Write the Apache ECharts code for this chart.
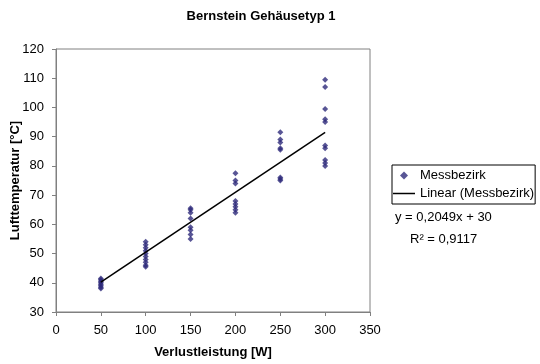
<!DOCTYPE html>
<html><head><meta charset="utf-8">
<script src="https://cdn.jsdelivr.net/npm/echarts@6/dist/echarts.min.js"></script>
<style>html,body{margin:0;padding:0;background:#fff}#c{width:540px;height:364px}</style>
</head><body><div id="c"></div>
<script>
var title = 'Bernstein Gehäusetyp 1';
var xName = 'Verlustleistung [W]';
var yName = 'Lufttemperatur [°C]';
var seriesName = 'Messbezirk';
var trendName = 'Linear (Messbezirk)';
var eqText = 'y = 0,2049x + 30';
var r2Text = 'R² = 0,9117';
var xTicks = [0, 50, 100, 150, 200, 250, 300, 350];
var yTicks = [30, 40, 50, 60, 70, 80, 90, 100, 110, 120];
var x50 = [41.5, 41, 40.5, 40, 39.5, 39, 38.5, 38];
var x100 = [54, 53, 52, 51, 50, 49, 48, 47, 46, 45.5];
var x150 = [65.5, 65, 64, 62, 59, 58, 56.5, 55];
var x200 = [77.5, 75, 74, 68, 67, 66, 65, 64];
var x250 = [91.5, 89, 88, 86, 85.5, 76, 75.5, 75];
var x300 = [109.5, 107, 99.5, 96, 95, 87, 86, 82, 81, 80];
var trendX = [50, 300];
var trendY = [40.2, 91.5];

var groups = [[50, x50], [100, x100], [150, x150], [200, x200], [250, x250], [300, x300]];
var pts = [];
groups.forEach(function (g) { g[1].forEach(function (v) { pts.push([g[0], v]); }); });
var trend = trendX.map(function (x, i) { return [x, trendY[i]]; });

var font = 'Arial, "Liberation Sans", sans-serif';
var chart = echarts.init(document.getElementById('c'));
chart.setOption({
  animation: false,
  backgroundColor: '#fff',
  title: { text: title, left: 256, textAlign: 'center', top: 5,
    textStyle: { fontFamily: font, fontSize: 13, fontWeight: 'bold', color: '#000' } },
  grid: { left: 56, top: 49, width: 314, height: 263, containLabel: false, outerBoundsMode: 'none',
    show: true, borderColor: '#808080', borderWidth: 1, backgroundColor: '#fff' },
  xAxis: { type: 'value', min: xTicks[0], max: xTicks[xTicks.length - 1], interval: 50,
    name: xName, nameLocation: 'middle', nameGap: 34, nameMoveOverlap: false,
    nameTextStyle: { fontFamily: font, fontSize: 13, fontWeight: 'bold', color: '#000' },
    axisLine: { show: true, lineStyle: { color: '#808080' } },
    axisTick: { show: true, length: 4, lineStyle: { color: '#808080' } },
    axisLabel: { fontFamily: font, fontSize: 13, color: '#000', margin: 12 },
    splitLine: { show: false } },
  yAxis: { type: 'value', min: yTicks[0], max: yTicks[yTicks.length - 1], interval: 10,
    name: yName, nameLocation: 'middle', nameGap: 34, nameRotate: 90, nameMoveOverlap: false,
    nameTextStyle: { fontFamily: font, fontSize: 13, fontWeight: 'bold', color: '#000' },
    axisLine: { show: true, lineStyle: { color: '#808080' } },
    axisTick: { show: true, length: 4, lineStyle: { color: '#808080' } },
    axisLabel: { fontFamily: font, fontSize: 13, color: '#000', margin: 12 },
    splitLine: { show: false } },
  legend: { orient: 'vertical', left: 392, top: 165,
    borderColor: '#000', borderWidth: 1, padding: [4, 1, 4, 1], itemGap: 5,
    itemWidth: 22, itemHeight: 8, symbolKeepAspect: true,
    textStyle: { fontFamily: font, fontSize: 13, color: '#000' },
    data: [
      { name: seriesName, icon: 'path://M0,-1L1,0L0,1L-1,0Z', itemStyle: { color: '#2e2a7a' } },
      { name: trendName, icon: 'path://M0,0H22V1.5H0Z', itemStyle: { color: '#000' } }
    ] },
  graphic: [
    { type: 'text', left: 395, top: 211, style: { text: eqText, font: '13px ' + font, fill: '#000' } },
    { type: 'text', left: 410, top: 233, style: { text: r2Text, font: '13px ' + font, fill: '#000' } }
  ],
  series: [
    { name: seriesName, type: 'scatter', data: pts, symbol: 'diamond', symbolSize: 6,
      itemStyle: { color: '#2e2a7a' } },
    { name: trendName, type: 'line', data: trend, symbol: 'none',
      lineStyle: { color: '#000', width: 1.5 }, itemStyle: { color: '#000' } }
  ]
});
</script></body></html>
